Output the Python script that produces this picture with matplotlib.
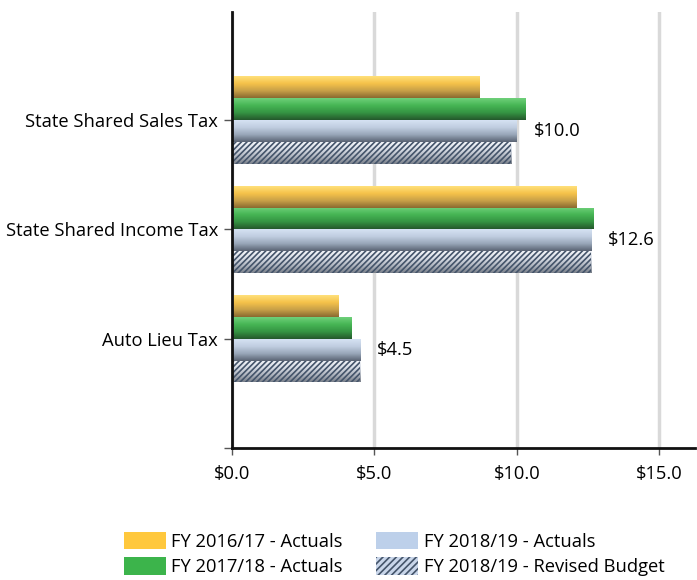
import numpy as np
import matplotlib
matplotlib.use("Agg")
import matplotlib.pyplot as plt
from matplotlib.colors import LinearSegmentedColormap
from matplotlib.patches import Patch

categories = ["State Shared Sales Tax", "State Shared Income Tax", "Auto Lieu Tax"]
series_names = ["FY 2016/17 - Actuals", "FY 2017/18 - Actuals",
                "FY 2018/19 - Actuals", "FY 2018/19 - Revised Budget"]
fy1617 = [8.7, 12.1, 3.75]
fy1718 = [10.3, 12.7, 4.2]
fy1819 = [10.0, 12.6, 4.5]
fy1819_budget = [9.8, 12.6, 4.5]
value_labels = ["$10.0", "$12.6", "$4.5"]
xticks = [0, 5, 10, 15]
xticklabels = ["$0.0", "$5.0", "$10.0", "$15.0"]

plt.rcParams['font.family'] = ['Open Sans', 'DejaVu Sans']
plt.rcParams['hatch.linewidth'] = 1.2
FS = 13.2

fig = plt.figure(figsize=(6.97, 5.8), dpi=100)
ax = fig.add_axes([232/697, 1-448/580, (695-232)/697, (448-12)/580])

series = [fy1617, fy1718, fy1819, fy1819_budget]
grads = [
    ["#ffe07a", "#f5c24a", "#c8a048", "#8a6a30"],
    ["#6fd07a", "#46b554", "#359443", "#25582c"],
    ["#d6e2f3", "#c0cde0", "#98a6b8", "#5a6373"],
    ["#f4f6fa", "#d8dde6", "#b0b6c0", "#7a808a"],
]
h = 0.2
offsets = [-1.5*h, -0.5*h, 0.5*h, 1.5*h]
ypos = np.arange(1, len(categories)+1)

for s, vals in enumerate(series):
    cmap = LinearSegmentedColormap.from_list("g%d" % s, grads[s])
    bars = ax.barh(ypos + offsets[s], vals, height=h, facecolor='none',
                   edgecolor='none', zorder=3)
    for p in bars.patches:
        x0, y0 = p.get_x(), p.get_y()
        w, hh = p.get_width(), p.get_height()
        grad = np.linspace(1, 0, 64).reshape(-1, 1)
        im = ax.imshow(grad, cmap=cmap, aspect='auto', origin='lower',
                       extent=[x0, x0 + w, y0 + hh, y0], zorder=3,
                       interpolation='bilinear')
        im.set_clip_path(p)
    if s == 3:
        ax.barh(ypos + offsets[s], vals, height=h, facecolor='none',
                edgecolor='#44546a', hatch='//////', linewidth=0, zorder=4)

for i, v in enumerate(fy1819):
    ax.text(v + 0.6, ypos[i] + offsets[2], value_labels[i], va='center',
            ha='left', fontsize=FS, color='#000000')

ax.set_xlim(0, 16.25)
ax.set_ylim(4, 1 - 0.99)
ax.set_yticks(list(ypos) + [4])
ax.set_yticklabels(categories + [""], fontsize=FS)
ax.set_xticks(xticks)
ax.set_xticklabels(xticklabels, fontsize=FS)
ax.tick_params(axis='x', length=5, width=1, pad=7, color='#555555')
ax.tick_params(axis='y', length=6, width=1, pad=4, color='#555555')
ax.xaxis.grid(True, color='#d9d9d9', linewidth=2.5, zorder=0)
ax.set_axisbelow(True)
for sp in ['top', 'right']:
    ax.spines[sp].set_visible(False)
for sp in ['left', 'bottom']:
    ax.spines[sp].set_linewidth(2)
    ax.spines[sp].set_color('#111111')
    ax.spines[sp].set_zorder(5)

handles = [
    Patch(facecolor='#ffc83d', edgecolor='none'),
    Patch(facecolor='#3cb44b', edgecolor='none'),
    Patch(facecolor='#bdd0ea', edgecolor='none'),
    Patch(facecolor='#c9d6ea', edgecolor='#44546a', hatch='/////', linewidth=0),
]
fig.legend(handles, series_names, ncol=2, loc='center',
           bbox_to_anchor=(394/697, 1-554/580), frameon=False, fontsize=FS,
           handlelength=2.3, handleheight=1.1, columnspacing=1.8,
           handletextpad=0.3, labelspacing=0.35)

fig.savefig("out.png", dpi=100)
